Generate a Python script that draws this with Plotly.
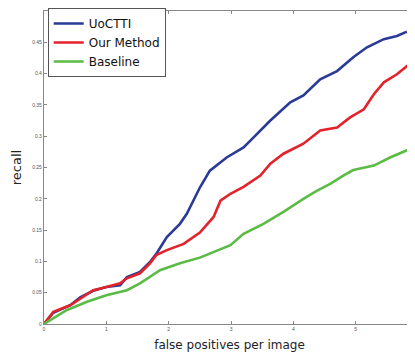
import plotly.graph_objects as go

blue_x = [0, 0.15, 0.42, 0.58, 0.79, 1.0, 1.22, 1.33, 1.54, 1.70, 1.80, 1.97, 2.18, 2.29, 2.50, 2.66, 2.93, 3.20, 3.31, 3.47, 3.63, 3.95, 4.16, 4.43, 4.70, 4.96, 5.18, 5.45, 5.66, 5.82]
blue_y = [0, 0.018, 0.030, 0.0425, 0.053, 0.059, 0.062, 0.075, 0.083, 0.099, 0.112, 0.139, 0.160, 0.176, 0.218, 0.245, 0.266, 0.282, 0.293, 0.309, 0.325, 0.354, 0.365, 0.391, 0.404, 0.426, 0.442, 0.455, 0.460, 0.467]

red_x = [0, 0.15, 0.42, 0.63, 0.79, 1.0, 1.22, 1.33, 1.54, 1.70, 1.80, 1.97, 2.24, 2.50, 2.72, 2.83, 2.99, 3.20, 3.47, 3.63, 3.84, 4.16, 4.43, 4.70, 4.91, 5.13, 5.29, 5.45, 5.66, 5.82, 5.95]
red_y = [0, 0.0196, 0.030, 0.0435, 0.054, 0.059, 0.065, 0.073, 0.081, 0.097, 0.110, 0.118, 0.128, 0.146, 0.171, 0.197, 0.208, 0.219, 0.237, 0.256, 0.272, 0.288, 0.309, 0.314, 0.330, 0.343, 0.367, 0.386, 0.399, 0.412, 0.420]

green_x = [0, 0.36, 0.69, 1.0, 1.33, 1.54, 1.86, 2.18, 2.50, 2.99, 3.20, 3.52, 3.84, 4.16, 4.38, 4.59, 4.80, 4.96, 5.29, 5.55, 5.95]
green_y = [0, 0.022, 0.0355, 0.046, 0.054, 0.065, 0.086, 0.097, 0.106, 0.126, 0.144, 0.160, 0.179, 0.200, 0.213, 0.224, 0.237, 0.246, 0.253, 0.266, 0.283]

series_names = ["UoCTTI", "Our Method", "Baseline"]
x_ticks = [0, 1, 2, 3, 4, 5]
y_ticks = [0, 0.05, 0.1, 0.15, 0.2, 0.25, 0.3, 0.35, 0.4, 0.45, 0.5]
y_tick_text = ["0", "0.05", "0.1", "0.15", "0.2", "0.25", "0.3", "0.35", "0.4", "0.45", "0.5"]

colors = ["#2a3a96", "#e2232b", "#5bbb45"]

fig = go.Figure()
for xs, ys, name, c in zip([blue_x, red_x, green_x], [blue_y, red_y, green_y], series_names, colors):
    fig.add_trace(go.Scatter(x=xs, y=ys, mode="lines", name=name,
                             line=dict(color=c, width=2.6)))

axis_common = dict(showgrid=False, zeroline=False, showline=True, linecolor="#888888",
                   linewidth=1.2, mirror="ticks", ticks="inside", ticklen=3, tickcolor="#888888",
                   tickfont=dict(family="Liberation Sans, Arial", size=5, color="#555555"))

fig.update_xaxes(range=[0, 5.95], tickvals=x_ticks, ticktext=[str(v) for v in x_ticks],
                 title=dict(text="false positives per image", standoff=9,
                            font=dict(family="DejaVu Sans", size=12, color="#222222")),
                 **axis_common)
fig.update_yaxes(range=[0, 0.5], tickvals=y_ticks, ticktext=y_tick_text,
                 title=dict(text="recall", standoff=7,
                            font=dict(family="DejaVu Sans", size=13, color="#222222")),
                 **axis_common)

fig.update_layout(
    width=407, height=345,
    margin=dict(l=36, r=0, t=2, b=29),
    paper_bgcolor="white", plot_bgcolor="white",
    showlegend=True,
    legend=dict(x=0.01, y=1.008, xanchor="left", yanchor="top",
                bgcolor="white", bordercolor="#555555", borderwidth=1,
                font=dict(family="DejaVu Sans", size=12, color="#111111"),
                itemwidth=30, tracegroupgap=0),
)

fig.write_html("out.html")
